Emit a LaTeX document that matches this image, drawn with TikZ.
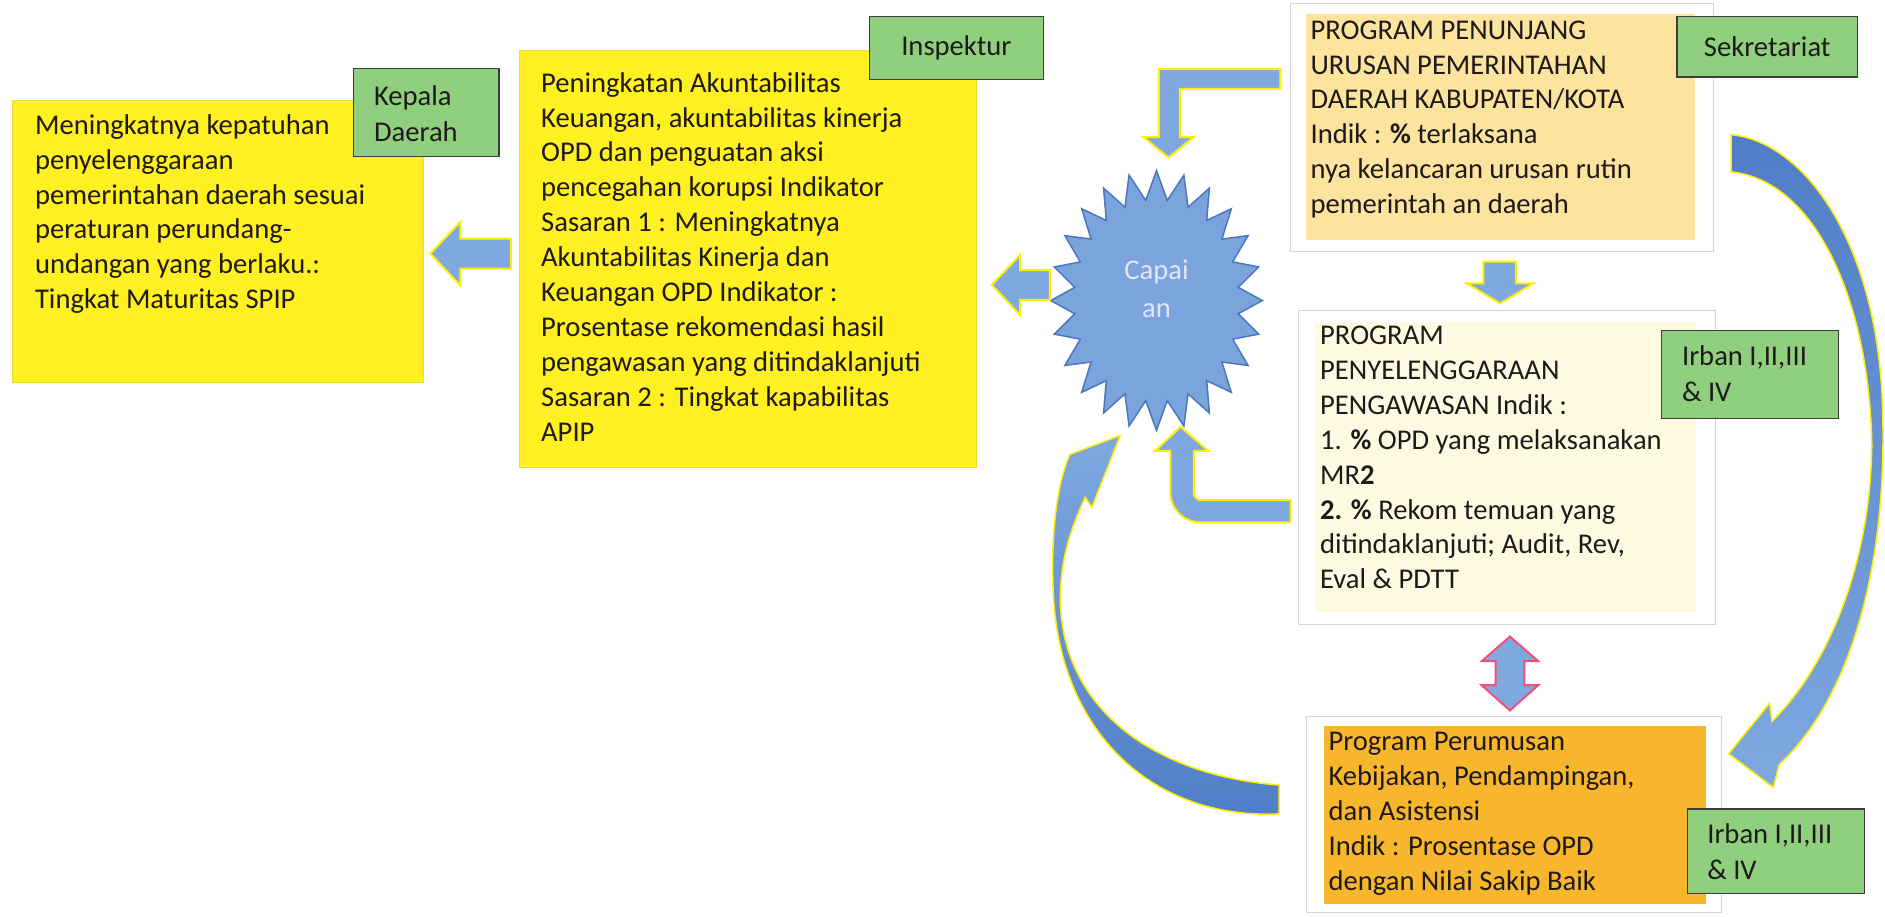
\documentclass[tikz,border=0pt]{standalone}
\usepackage{fontspec}
\setmainfont{Carlito}
\usetikzlibrary{fit}
\definecolor{ylw}{RGB}{255,240,34}
\definecolor{peach}{RGB}{252,228,158}
\definecolor{cream}{RGB}{254,250,226}
\definecolor{orng}{RGB}{248,182,44}
\definecolor{grn}{RGB}{143,207,126}
\definecolor{grnline}{RGB}{60,60,60}
\definecolor{frameln}{RGB}{214,208,224}
\definecolor{arrblue}{RGB}{126,168,223}
\definecolor{arrdark}{RGB}{80,125,198}
\definecolor{arredge}{RGB}{255,240,0}
\definecolor{starfill}{RGB}{123,163,220}
\definecolor{starline}{RGB}{74,120,191}
\definecolor{pinkln}{RGB}{240,80,120}
\definecolor{txt}{RGB}{30,26,26}
\begin{document}
\begin{tikzpicture}[x=1.2022pt,y=-1.2022pt,
  font=\fontsize{28.6pt}{34.9pt}\selectfont, text=txt,
  ybox/.style={fill=ylw, draw=ylw!85!gray, line width=0.5pt, inner sep=0pt},
  framebox/.style={fill=white, draw=frameln, line width=0.8pt, inner sep=0pt},
  fillbox/.style={draw=none, inner sep=0pt},
  lbl/.style={fill=grn, draw=grnline, line width=1.2pt, inner sep=0pt},
  bodytext/.style={anchor=north west, align=left, inner sep=0pt},
  lbltext/.style={anchor=north west, align=left, inner sep=0pt, font=\fontsize{28.6pt}{36pt}\selectfont},
  blockarrow/.style={fill=arrblue, draw=arredge, line width=2pt, line join=miter},
  dblarrow/.style={fill=arrblue, draw=pinkln, line width=2pt, line join=miter},
  curvearrow/.style={draw=arredge, line width=1.5pt, line join=miter},
  starshape/.style={fill=starfill, draw=starline, line width=1.5pt, line join=miter}
]
\useasboundingbox (0,0) rectangle (1568,762);
\fill[white] (0,0) rectangle (1568,762);

% ---- left box
\node[ybox, fit={(10,83)(352,318)}] (b1) {};
\node[bodytext] (b1t) at (29,95) {Meningkatnya kepatuhan\\penyelenggaraan\\pemerintahan daerah sesuai\\peraturan perundang-\\undangan yang berlaku.:\\Tingkat Maturitas SPIP};
\node[lbl, fit={(294,57)(415,130)}] (kd) {};
\node[lbltext] (kdt) at (311,71) {Kepala\\Daerah};

% ---- middle yellow box
\node[ybox, fit={(432,42)(812,389)}] (b2) {};
\node[bodytext] (b2t) at (450,60) {Peningkatan Akuntabilitas\\Keuangan, akuntabilitas kinerja\\OPD dan penguatan aksi\\pencegahan korupsi Indikator\\Sasaran 1 : Meningkatnya\\Akuntabilitas Kinerja dan\\Keuangan OPD Indikator :\\Prosentase rekomendasi hasil\\pengawasan yang ditindaklanjuti\\Sasaran 2 : Tingkat kapabilitas\\APIP};
\node[lbl, fit={(723,14)(868,66)}] (insp) {};
\node[inner sep=0pt] (inspt) at (insp.center) {Inspektur};

% ---- top right box
\node[framebox, fit={(1073,3)(1425,209)}] (b3f) {};
\node[fillbox, fill=peach, fit={(1086,12)(1410,200)}] (b3) {};
\node[bodytext] (b3t) at (1090,17) {PROGRAM PENUNJANG\\URUSAN PEMERINTAHAN\\DAERAH KABUPATEN/KOTA\\Indik : \textbf{\%} terlaksana\\nya kelancaran urusan rutin\\pemerintah an daerah};
\node[lbl, fit={(1395,14)(1545,64)}] (sekr) {};
\node[inner sep=0pt] (sekrt) at (sekr.center) {Sekretariat};

% ---- middle right box
\node[framebox, fit={(1080,258)(1427,519)}] (b4f) {};
\node[fillbox, fill=cream, fit={(1094,268)(1411,509)}] (b4) {};
\node[bodytext] (b4t) at (1098,271) {PROGRAM\\PENYELENGGARAAN\\PENGAWASAN Indik :\\1. \textbf{\%} OPD yang melaksanakan\\MR\textbf{2}\\\textbf{2. \%} Rekom temuan yang\\ditindaklanjuti; Audit, Rev,\\Eval \& PDTT};
\node[lbl, fit={(1382,275)(1529,348)}] (ir1) {};
\node[lbltext] (ir1t) at (1399,287) {Irban I,II,III\\\& IV};

% ---- bottom right box
\node[framebox, fit={(1087,596)(1432,759)}] (b5f) {};
\node[fillbox, fill=orng, fit={(1101,604)(1419,752)}] (b5) {};
\node[bodytext] (b5t) at (1105,609) {Program Perumusan\\Kebijakan, Pendampingan,\\dan Asistensi\\Indik : Prosentase OPD\\dengan Nilai Sakip Baik};
\node[lbl, fit={(1404,673)(1551,743)}] (ir2) {};
\node[lbltext] (ir2t) at (1420,685) {Irban I,II,III\\\& IV};

% ---- star
\draw[starshape] plot[samples=48, domain=0:47, variable=\k]
  ({962+(78.3+9.7*cos(180*\k))*sin(7.5*\k)}, {250-(96+12*cos(180*\k))*cos(7.5*\k)}) -- cycle;
\node[align=center, text=white!90!blue, font=\fontsize{28.6pt}{38.5pt}\selectfont] (star) at (962,240) {Capai\\an};

% ---- block arrows
\draw[blockarrow] (425,198.5) -- (383,198.5) -- (383,184.5) -- (358,211) -- (383,237.5) -- (383,223.5) -- (425,223.5) -- cycle;
\draw[blockarrow] (873.4,224.6) -- (848.5,224.6) -- (848.5,212) -- (825,237) -- (848.5,262) -- (848.5,249.5) -- (873.4,249.5) -- cycle;
\draw[blockarrow] (1065,57.4) -- (964,57.4) -- (964,114) -- (951,114) -- (972,131) -- (993,114) -- (981.5,114) -- (981.5,74) -- (1065,74) -- cycle;
\draw[blockarrow] (1073.5,434.5) -- (998.5,434.5) .. controls (984.7,434.5) and (973.5,423.3) .. (973.5,409.5) -- (973.5,375) -- (961,375) -- (982,355) -- (1005,375) -- (993,375) -- (993,410) .. controls (993,413.3) and (995.7,416) .. (999,416) -- (1073.5,416) -- cycle;
\draw[blockarrow] (1234,217.7) -- (1261,217.7) -- (1261,235.7) -- (1275.6,235.7) -- (1247.8,252.4) -- (1220,235.7) -- (1234,235.7) -- cycle;
\draw[dblarrow] (1256,529.5) -- (1279.5,550) -- (1268,550) -- (1268,570) -- (1279.5,570) -- (1256,591) -- (1232.5,570) -- (1244,570) -- (1244,550) -- (1232.5,550) -- cycle;

% ---- curved arrows
\path[curvearrow, top color=arrdark, bottom color=arrblue]
  (1440,112) .. controls (1500,118) and (1562,200) .. (1566,340)
  .. controls (1570,470) and (1540,580) .. (1480,636)
  -- (1475,655) -- (1438,627) -- (1472,585) -- (1474,600)
  .. controls (1520,555) and (1556,470) .. (1557,370)
  .. controls (1555,250) and (1510,150) .. (1440,143) -- cycle;
\path[curvearrow, top color=arrblue, bottom color=arrdark]
  (1064,677) .. controls (960,682) and (880,610) .. (876,490)
  .. controls (874,440) and (880,400) .. (890,378)
  -- (931.8,362.3) -- (908.2,422) -- (902.7,413.7)
  .. controls (888,445) and (882,470) .. (882,500)
  .. controls (884,590) and (960,645) .. (1064,653) -- cycle;
\end{tikzpicture}
\end{document}
